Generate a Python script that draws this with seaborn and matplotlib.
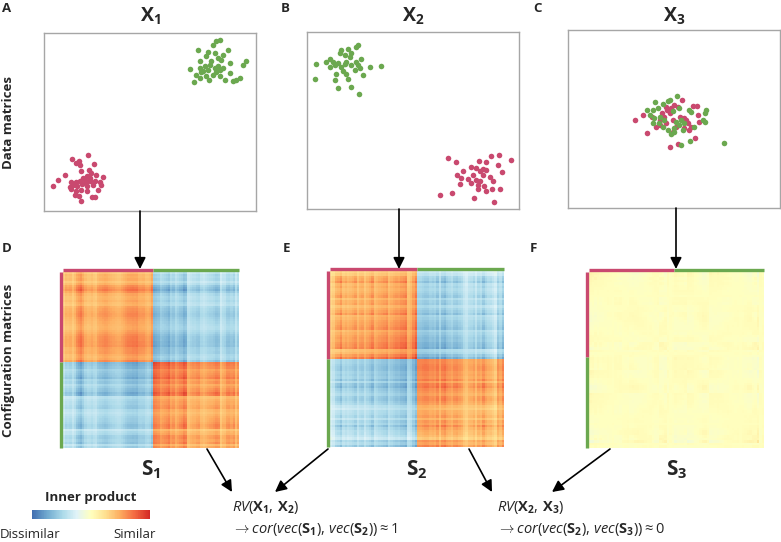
import numpy as np
import matplotlib
matplotlib.use("Agg")
import matplotlib.pyplot as plt
from matplotlib.colors import ListedColormap
import seaborn as sns

# --- Data (box coordinates 0-100) ---
x1_pink = [(20.8, 31.6), (13.4, 29.2), (16.4, 28.3), (14.9, 27.0), (23.4, 26.6), (16.8, 25.7),
           (9.7, 20.4), (6.6, 17.6), (4.2, 14.2), (12.6, 16.1), (17.6, 22.3), (21.2, 23.2),
           (22.3, 21.3), (20.3, 19.9), (24.7, 20.4), (27.8, 19.1), (18.4, 18.5), (16.8, 16.7),
           (14.9, 16.1), (13.7, 14.8), (15.6, 13.9), (18.1, 15.4), (19.7, 16.1), (21.5, 16.7),
           (23.9, 16.7), (26.3, 16.1), (27.0, 14.8), (23.1, 14.8), (20.3, 13.9), (17.6, 12.0),
           (14.9, 11.0), (12.9, 12.4), (14.5, 9.2), (16.5, 8.2), (17.3, 5.8), (22.8, 7.9),
           (23.9, 7.9), (20.3, 11.0), (25.5, 12.0), (21.5, 18.5), (19.2, 17.6), (12.1, 13.5)]
x1_green = [(82.9, 96.3), (81.3, 95.3), (79.7, 93.4), (72.6, 90.6), (77.4, 89.1), (80.5, 88.8),
            (84.4, 87.8), (86.8, 90.6), (76.6, 86.9), (82.1, 86.0), (73.4, 84.1), (78.9, 84.1),
            (83.6, 85.0), (87.6, 83.1), (95.4, 84.1), (93.9, 82.2), (69.0, 79.8), (73.4, 80.3),
            (75.8, 81.3), (77.4, 79.4), (80.5, 80.3), (82.9, 79.4), (74.2, 77.9), (71.9, 76.6),
            (76.6, 75.7), (79.7, 76.6), (82.9, 75.7), (85.2, 73.8), (89.2, 72.8), (92.3, 74.7),
            (90.7, 73.8), (70.8, 72.3), (77.8, 73.8), (75.0, 78.5), (82.1, 81.6), (84.4, 80.3),
            (78.1, 82.2), (87.6, 77.5), (73.4, 74.7), (81.3, 77.9)]

x2_pink = [(66.5, 28.7), (70.1, 26.3), (86.9, 30.0), (90.6, 30.6), (96.4, 27.8), (81.1, 27.4),
           (84.3, 26.3), (77.5, 24.0), (79.9, 23.1), (83.0, 22.5), (90.1, 25.0), (73.6, 21.2),
           (81.4, 21.2), (84.6, 21.8), (70.8, 19.3), (78.3, 19.3), (83.0, 19.3), (92.1, 20.8),
           (72.8, 17.4), (75.9, 16.9), (79.9, 16.5), (81.4, 15.6), (86.2, 18.0), (87.7, 15.6),
           (72.0, 14.3), (77.5, 14.6), (80.7, 13.7), (83.3, 12.8), (80.7, 11.3), (84.6, 9.9),
           (87.4, 11.3), (91.2, 11.3), (62.6, 8.1), (68.4, 9.0), (78.6, 6.2), (88.1, 3.8)]
x2_green = [(24.1, 92.5), (23.3, 91.6), (19.3, 90.6), (16.2, 89.7), (15.4, 88.2), (20.9, 88.2),
            (17.8, 86.9), (20.1, 85.6), (10.7, 85.0), (25.6, 85.0), (9.1, 83.1), (4.4, 82.2),
            (14.6, 82.6), (18.6, 83.1), (23.3, 83.1), (13.1, 81.2), (10.7, 80.3), (16.2, 80.3),
            (20.9, 81.2), (29.6, 80.3), (35.1, 80.9), (24.8, 79.4), (22.5, 78.4), (17.0, 78.0),
            (26.4, 75.6), (13.8, 76.2), (18.6, 76.5), (3.6, 73.7), (13.1, 72.8), (19.3, 73.7),
            (14.6, 68.1), (20.9, 69.0), (24.5, 64.9), (17.8, 82.2), (24.1, 81.2), (12.3, 83.1)]

x3_pink = [(31.4, 49.7), (35.6, 52.5), (37.4, 42.4), (39.7, 51.2), (41.6, 45.6), (43.2, 49.3),
           (45.5, 51.2), (46.6, 55.3), (47.9, 53.1), (49.5, 49.3), (50.2, 57.8), (51.8, 56.5),
           (53.8, 60.6), (54.5, 50.8), (55.7, 49.3), (56.5, 47.5), (58.9, 57.2), (60.8, 57.4),
           (61.2, 52.2), (62.0, 48.4), (58.1, 45.6), (57.0, 44.1), (54.5, 44.7), (51.0, 45.6),
           (49.5, 42.8), (46.3, 47.5), (44.4, 53.1), (46.0, 56.8), (47.9, 34.0), (51.8, 35.8),
           (60.1, 39.6), (43.2, 46.5), (52.6, 51.2), (48.7, 55.9)]
x3_green = [(41.1, 59.7), (44.7, 58.7), (47.1, 60.0), (48.2, 60.6), (51.5, 62.9), (37.2, 55.0),
            (40.0, 55.3), (42.4, 55.9), (49.5, 54.6), (52.3, 55.9), (57.3, 55.3), (65.1, 55.3),
            (64.4, 53.1), (58.1, 54.0), (38.5, 52.2), (40.8, 50.3), (43.2, 51.2), (40.0, 47.5),
            (42.9, 47.8), (44.7, 45.6), (47.1, 43.7), (48.4, 41.8), (50.2, 45.2), (52.3, 46.5),
            (53.4, 49.3), (54.5, 47.5), (51.0, 48.4), (54.2, 43.7), (59.2, 45.6), (63.6, 49.3),
            (64.8, 48.4), (57.6, 37.7), (53.4, 35.3), (73.8, 36.6), (45.2, 49.7), (50.2, 42.8)]

titles = ["X_1", "X_2", "X_3"]
s_labels = ["S_1", "S_2", "S_3"]
panel_top = ["A", "B", "C"]
panel_bottom = ["D", "E", "F"]

# --- Style ---
PINK = "#C9496F"
GREEN = "#6BA84F"
CMAP = ListedColormap(plt.get_cmap("RdYlBu_r")(np.linspace(0.09, 0.91, 256)))
COLOR_LIMIT = 3900
W, H = 781, 542

sns.set_style("white")
plt.rcParams["font.family"] = ["Open Sans", "DejaVu Sans"]
plt.rcParams["mathtext.fontset"] = "custom"
plt.rcParams["mathtext.rm"] = "Open Sans"
plt.rcParams["mathtext.it"] = "Open Sans:italic"
plt.rcParams["mathtext.bf"] = "Open Sans:bold"


def box(left, top, right, bottom):
    # pixel box (from top-left) -> figure fraction rect
    return [left / W, 1 - bottom / H, (right - left) / W, (bottom - top) / H]


def fpt(px, py):
    return (px / W, 1 - py / H)


def arrow(p0, p1):
    fig.add_artist(matplotlib.patches.FancyArrowPatch(
        fpt(*p0), fpt(*p1), transform=fig.transFigure, arrowstyle="-|>",
        mutation_scale=17, color="black", lw=1.2, shrinkA=0, shrinkB=0))


fig = plt.figure(figsize=(W / 100, H / 100), dpi=100)

scatter_boxes = [(44, 33, 256, 211), (307, 32, 519, 209), (568, 30, 780, 208)]
matrix_boxes = [(63, 272, 239, 448), (330, 271, 504, 447), (589, 272, 764, 448)]
datasets = [(x1_pink, x1_green), (x2_pink, x2_green), (x3_pink, x3_green)]
arrow_x = [140, 399, 676]

heat = None
for i, (pink, green) in enumerate(datasets):
    pink = np.array(pink)
    green = np.array(green)

    # --- data matrix panel ---
    ax = fig.add_axes(box(*scatter_boxes[i]))
    sns.scatterplot(x=pink[:, 0], y=pink[:, 1], ax=ax, color=PINK, s=16, linewidth=0)
    sns.scatterplot(x=green[:, 0], y=green[:, 1], ax=ax, color=GREEN, s=16, linewidth=0)
    ax.set_xlim(0, 100)
    ax.set_ylim(0, 100)
    ax.set_xticks([])
    ax.set_yticks([])
    for sp in ax.spines.values():
        sp.set_color("#A6A6A6")
        sp.set_linewidth(1.0)

    # --- configuration matrix (inner products of centred data) ---
    X = np.vstack([pink, green])
    Xc = X - X.mean(axis=0)
    S = Xc @ Xc.T
    axm = fig.add_axes(box(*matrix_boxes[i]))
    sns.heatmap(S, ax=axm, cmap=CMAP, vmin=-COLOR_LIMIT, vmax=COLOR_LIMIT,
                cbar=False, xticklabels=False, yticklabels=False)
    heat = axm.collections[0]
    frac = len(pink) / len(X)
    off = 2.0 / (matrix_boxes[i][2] - matrix_boxes[i][0])
    kw = dict(transform=axm.transAxes, clip_on=False, lw=2.4, solid_capstyle="butt")
    axm.plot([0, frac], [1 + off, 1 + off], color=PINK, **kw)
    axm.plot([frac, 1], [1 + off, 1 + off], color=GREEN, **kw)
    axm.plot([-off, -off], [1, 1 - frac], color=PINK, **kw)
    axm.plot([-off, -off], [1 - frac, 0], color=GREEN, **kw)

    # --- labels ---
    cx = (scatter_boxes[i][0] + scatter_boxes[i][2]) / 2
    fig.text(*fpt(cx, 16), r"$\mathbf{%s}$" % titles[i], fontsize=14,
             ha="center", va="center")
    mx = (matrix_boxes[i][0] + matrix_boxes[i][2]) / 2
    fig.text(*fpt(mx, 470), r"$\mathbf{%s}$" % s_labels[i], fontsize=15,
             ha="center", va="center")

    # vertical arrow from data matrix to configuration matrix
    arrow((arrow_x[i], scatter_boxes[i][3]), (arrow_x[i], 269))

# panel letters
for (px, py), t in zip([(7, 8), (285, 8), (537, 8)], panel_top):
    fig.text(*fpt(px, py), t, fontsize=9.5, fontweight="bold", ha="center", va="center")
for (px, py), t in zip([(7, 248), (287, 248), (533, 248)], panel_bottom):
    fig.text(*fpt(px, py), t, fontsize=9.5, fontweight="bold", ha="center", va="center")

# row labels
fig.text(*fpt(9, 122), "Data matrices", rotation=90, fontsize=9.5,
         fontweight="bold", ha="center", va="center")
fig.text(*fpt(9, 360), "Configuration matrices", rotation=90, fontsize=9.5,
         fontweight="bold", ha="center", va="center")

# diagonal arrows to the RV statements
for p0, p1 in [((207, 449), (232, 492)), ((328, 449), (275, 492)),
               ((469, 449), (492, 492)), ((610, 449), (552, 492))]:
    arrow(p0, p1)

# colour legend
cax = fig.add_axes(box(32, 510, 150, 519))
cb = fig.colorbar(heat, cax=cax, orientation="horizontal")
cb.set_ticks([])
cb.outline.set_visible(False)
fig.text(*fpt(91, 497), "Inner product", fontsize=9.5, fontweight="bold",
         ha="center", va="center")
fig.text(*fpt(0, 534), "Dissimilar", fontsize=9.5, ha="left", va="center")
fig.text(*fpt(156, 534), "Similar", fontsize=9.5, ha="right", va="center")

# RV statements
fig.text(*fpt(232, 507), r"$RV(\mathbf{X_1},\, \mathbf{X_2})$", fontsize=10.5,
         ha="left", va="center")
fig.text(*fpt(232, 530), r"$\rightarrow cor(vec(\mathbf{S_1}),\, vec(\mathbf{S_2})) \approx 1$",
         fontsize=10.5, ha="left", va="center")
fig.text(*fpt(497, 507), r"$RV(\mathbf{X_2},\, \mathbf{X_3})$", fontsize=10.5,
         ha="left", va="center")
fig.text(*fpt(497, 530), r"$\rightarrow cor(vec(\mathbf{S_2}),\, vec(\mathbf{S_3})) \approx 0$",
         fontsize=10.5, ha="left", va="center")

fig.savefig("out.png", dpi=100)
plt.close(fig)
